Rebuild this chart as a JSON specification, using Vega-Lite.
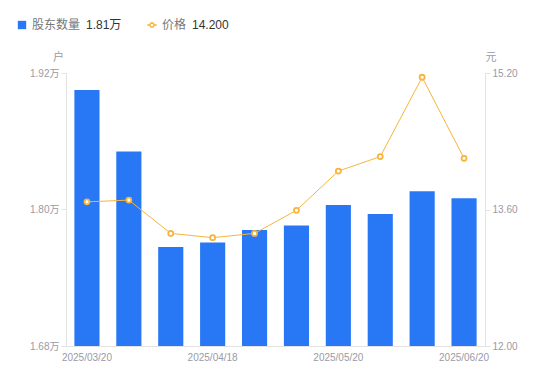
{
  "$schema": "https://vega.github.io/schema/vega-lite/v6.json",
  "autosize": "none",
  "width": 419,
  "height": 273,
  "padding": {"left": 66, "top": 73, "right": 65, "bottom": 35},
  "config": {
    "font": "Liberation Sans, Noto Sans CJK SC, sans-serif",
    "view": {"stroke": null},
    "axis": {"grid": false, "domainColor": "#e3e3e3", "tickColor": "#e3e3e3", "labelColor": "#9a9aa6", "labelFontSize": 10, "titleColor": "#9a9aa6", "titleFontWeight": "normal", "titleFontSize": 11}
  },
  "data": {"values": [
    {"date": "2025/03/20", "holders": 1.905, "price": 13.69},
    {"date": "2025/03/31", "holders": 1.851, "price": 13.71},
    {"date": "2025/04/10", "holders": 1.767, "price": 13.32},
    {"date": "2025/04/18", "holders": 1.771, "price": 13.27},
    {"date": "2025/04/30", "holders": 1.782, "price": 13.32},
    {"date": "2025/05/09", "holders": 1.786, "price": 13.59},
    {"date": "2025/05/20", "holders": 1.804, "price": 14.05},
    {"date": "2025/05/30", "holders": 1.796, "price": 14.22},
    {"date": "2025/06/10", "holders": 1.816, "price": 15.15},
    {"date": "2025/06/20", "holders": 1.81, "price": 14.2}
  ]},
  "encoding": {
    "x": {"field": "date", "type": "ordinal", "sort": null,
      "scale": {"paddingInner": 0.4, "paddingOuter": 0.2},
      "axis": {"title": null, "labelAngle": 0, "ticks": false, "labelPadding": 6,
        "values": ["2025/03/20", "2025/04/18", "2025/05/20", "2025/06/20"]}}
  },
  "layer": [
    {
      "mark": {"type": "bar"},
      "encoding": {
        "y": {"field": "holders", "type": "quantitative",
          "scale": {"domain": [1.68, 1.92], "zero": false, "nice": false},
          "axis": {"orient": "left", "values": [1.68, 1.8, 1.92], "labelExpr": "format(datum.value, '.2f') + '万'",
            "tickSize": 5, "labelPadding": 2, "title": "户", "titleAngle": 0, "titleX": -8, "titleY": -16, "titleAlign": "center", "titleBaseline": "middle"}},
        "y2": {"datum": 1.68},
        "fill": {"datum": "股东数量", "type": "nominal",
          "scale": {"domain": ["股东数量"], "range": ["#2878f5"]},
          "legend": {"orient": "none", "legendX": -50, "legendY": -54, "symbolType": "square", "symbolSize": 70,
            "title": "1.81万", "titleOrient": "right", "titleFontWeight": "normal", "titleFontSize": 12, "titleColor": "#333", "titlePadding": 6,
            "labelFontSize": 12, "labelColor": "#777", "labelOffset": 4}}
      }
    },
    {
      "encoding": {
        "y": {"field": "price", "type": "quantitative",
          "scale": {"domain": [12, 15.2], "zero": false, "nice": false},
          "axis": {"orient": "right", "values": [12, 13.6, 15.2], "format": ".2f",
            "tickSize": 5, "labelPadding": 2, "title": "元", "titleAngle": 0, "titleX": 0, "titleY": -16, "titleAlign": "left", "titleBaseline": "middle"}},
        "stroke": {"datum": "价格", "type": "nominal",
          "scale": {"domain": ["价格"], "range": ["#f7b53b"]},
          "legend": {"orient": "none", "legendX": 80, "legendY": -54,
            "symbolType": "M-1,0H-0.45M0.45,0H1M0.45,0A0.45,0.45 0 1 1 -0.45,0A0.45,0.45 0 1 1 0.45,0Z",
            "symbolFillColor": "#ffffff", "symbolStrokeWidth": 1.5, "symbolSize": 90,
            "title": "14.200", "titleOrient": "right", "titleFontWeight": "normal", "titleFontSize": 12, "titleColor": "#333", "titlePadding": 6,
            "labelFontSize": 12, "labelColor": "#777", "labelOffset": 4}}
      },
      "layer": [
        {"mark": {"type": "line", "strokeWidth": 1}},
        {"mark": {"type": "point", "shape": "circle", "filled": false, "fill": "#ffffff", "strokeWidth": 1.8, "size": 25, "opacity": 1}}
      ]
    }
  ],
  "resolve": {"scale": {"y": "independent"}}
}
